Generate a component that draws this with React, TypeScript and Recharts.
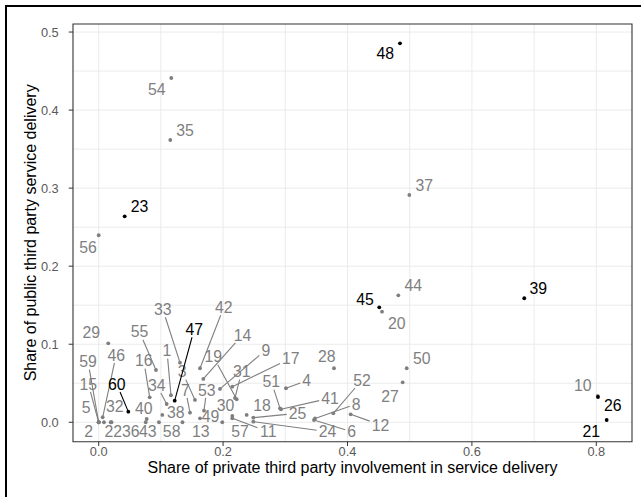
import React from 'react';
import {
  ScatterChart,
  Scatter,
  XAxis,
  YAxis,
  CartesianGrid,
  ReferenceArea,
} from 'recharts';

// unit ids, 1..60
const unitIds = Array.from({ length: 60 }, (_, i) => i + 1);

// x: share of private third party involvement
const privateShare = [
  0.1162, 0.0, 0.1548, 0.3011, 0.0, 0.3461, 0.1468, 0.3478, 0.195, 0.8023,
  0.2148, 0.4051, 0.1347, 0.1682, 0.0, 0.082, 0.2148, 0.2379, 0.2219, 0.4555,
  0.8167, 0.0193, 0.0418, 0.2486, 0.2486, 0.8027, 0.4887, 0.3783, 0.0154, 0.2148,
  0.2191, 0.0085, 0.1307, 0.1093, 0.1151, 0.0206, 0.4994, 0.1023, 0.6842, 0.0772,
  0.2931, 0.1629, 0.0756, 0.4817, 0.4511, 0.0064, 0.1222, 0.4844, 0.1629, 0.4952,
  0.2915, 0.3772, 0.1693, 0.1167, 0.0921, 0.0, 0.1987, 0.0969, 0.0, 0.0476,
];

// y: share of public third party service delivery
const publicShare = [
  0.0346, 0.0, 0.0286, 0.0436, 0.0, 0.0029, 0.0123, 0.0049, 0.0427, 0.0337,
  0.0051, 0.0102, 0.0, 0.0555, 0.0, 0.032, 0.0456, 0.0094, 0.0295, 0.1417,
  0.0029, 0.0, 0.2639, 0.0008, 0.0059, 0.0324, 0.0512, 0.0692, 0.1012, 0.0081,
  0.0311, 0.0, 0.0764, 0.0234, 0.3617, 0.0, 0.2912, 0.0094, 0.1589, 0.0042,
  0.0167, 0.0692, 0.0, 0.1627, 0.1473, 0.0064, 0.0277, 0.4855, 0.0051, 0.0692,
  0.0179, 0.0115, 0.0149, 0.4411, 0.067, 0.2396, 0.0, 0.0, 0.0, 0.0136,
];

const highlightedIds = [21, 23, 26, 39, 45, 47, 48, 60];

const xTicks = [0, 0.2, 0.4, 0.6, 0.8];
const yTicks = [0, 0.1, 0.2, 0.3, 0.4, 0.5];

// label placement (px offset from the point), as the repel layout left them
const labelNudge: Record<number, [number, number]> = {
  1: [-4, -44.6], 2: [-10, 9.4], 3: [-12.8, -28.3], 4: [20.7, -7.6], 5: [-12.5, -15],
  6: [37.7, 11.7], 7: [-4.5, -22.7], 8: [41.2, -14.5], 9: [45.8, -39], 10: [-14.9, -11],
  11: [36, 13.4], 12: [29.8, 10.7], 13: [18.2, 9], 14: [39.2, -44], 15: [-10.4, -38.3],
  16: [-5.9, -36.6], 17: [58.5, -28.4], 18: [15.3, -10], 19: [-23.4, -42.6], 20: [14.7, 11.3],
  21: [-15.4, 11.7], 22: [2.5, 9.4], 23: [14.8, -9.6], 24: [74.2, 10], 25: [44.2, -4.4],
  26: [14.8, 8], 27: [-12.7, 13.7], 28: [-7.3, -11.6], 29: [-17, -11], 30: [-6.8, -11],
  31: [6.7, -26.3], 32: [10.7, -16.3], 33: [-17.2, -53.4], 34: [-10, -19], 35: [14.7, -10],
  36: [19.2, 9.4], 37: [14.9, -10], 38: [13.5, -2.3], 39: [14, -10.3], 40: [-3, -10.7],
  41: [49, -11], 42: [23.8, -61], 43: [2, 9], 44: [15, -10.3], 45: [-14.3, -8],
  46: [13.5, -62.3], 47: [19.5, -71.4], 48: [-14.8, 10], 49: [10.5, -2.3], 50: [15, -10.3],
  51: [-8.7, -26.6], 52: [28.7, -33.3], 53: [2.7, -20.7], 54: [-14.6, 11.3], 55: [-16.5, -38.3],
  56: [-10.7, 12], 57: [17.7, 9], 58: [12.7, 9], 59: [-10.7, -60.6], 60: [-11.6, -27.7],
};

const X_DOMAIN: [number, number] = [-0.0413, 0.8574];
const Y_DOMAIN: [number, number] = [-0.0249, 0.5103];

const FONT = '"Liberation Sans", Arial, Helvetica, sans-serif';
const GRAY = '#7f7f7f';
const LABEL_SIZE = 15.8;
const TITLE_SIZE = 16;
const TICK_SIZE = 12.8;

const points = unitIds.map((id, i) => ({
  id,
  x: privateShare[i],
  y: publicShare[i],
  hl: highlightedIds.includes(id),
}));

const Dot = (props: any) => {
  const { cx, cy, payload } = props;
  if (cx == null || cy == null) return null;
  return <circle cx={cx} cy={cy} r={1.9} fill={payload.hl ? '#000' : GRAY} />;
};

// text label + leader segment, drawn the way ggrepel does
const RepelLabel = (props: any) => {
  const { cx, cy, payload } = props;
  if (cx == null || cy == null) return null;
  const [dx, dy] = labelNudge[payload.id] || [0, 0];
  const color = payload.hl ? '#000' : GRAY;
  const lx = cx + dx;
  const ly = cy + dy;
  const hw = (String(payload.id).length * 0.556 * LABEL_SIZE) / 2 + 2;
  const hh = 8;
  const tx = dx !== 0 ? hw / Math.abs(dx) : Infinity;
  const ty = dy !== 0 ? hh / Math.abs(dy) : Infinity;
  const t = Math.min(tx, ty, 1);
  const segLen = Math.hypot(dx, dy) * (1 - t);
  return (
    <g>
      {segLen > 10 && (
        <line
          x1={cx}
          y1={cy}
          x2={lx - dx * t}
          y2={ly - dy * t}
          stroke={color}
          strokeWidth={1.1}
        />
      )}
      <text
        x={lx}
        y={ly}
        dy="0.36em"
        textAnchor="middle"
        fontSize={LABEL_SIZE}
        fontFamily={FONT}
        fill={color}
      >
        {payload.id}
      </text>
    </g>
  );
};

const XTitle = (props: any) => {
  const vb = props.viewBox || {};
  return (
    <text
      x={vb.x + vb.width / 2}
      y={473}
      textAnchor="middle"
      fontSize={TITLE_SIZE}
      fontFamily={FONT}
      fill="#000"
    >
      Share of private third party involvement in service delivery
    </text>
  );
};

const YTitle = (props: any) => {
  const vb = props.viewBox || {};
  const cy = vb.y + vb.height / 2;
  return (
    <text
      x={36}
      y={cy}
      transform={`rotate(-90, 36, ${cy})`}
      textAnchor="middle"
      fontSize={TITLE_SIZE}
      fontFamily={FONT}
      fill="#000"
    >
      Share of public third party service delivery
    </text>
  );
};

const App: React.FC = () => {
  return (
    <div style={{ position: 'absolute', left: 0, top: 0, width: 641, height: 497, background: '#fff', overflow: 'hidden' }}>
      <div
        style={{
          position: 'absolute',
          left: 5,
          top: 5,
          width: 636,
          height: 492,
          borderTop: '2px solid #000',
          borderLeft: '2px solid #000',
          boxSizing: 'border-box',
        }}
      />
      <ScatterChart
        width={641}
        height={497}
        margin={{ top: 24, right: 9, bottom: 5.3, left: 0 }}
        style={{ position: 'absolute', left: 0, top: 0 }}
      >
        <CartesianGrid
          stroke="#ebebeb"
          strokeWidth={1}
          verticalValues={[0, 0.1, 0.2, 0.3, 0.4, 0.5, 0.6, 0.7, 0.8]}
          horizontalValues={[0, 0.05, 0.1, 0.15, 0.2, 0.25, 0.3, 0.35, 0.4, 0.45, 0.5]}
        />
        <XAxis
          type="number"
          dataKey="x"
          domain={X_DOMAIN}
          ticks={xTicks}
          allowDataOverflow
          tickFormatter={(v: number) => v.toFixed(1)}
          height={50}
          axisLine={false}
          tickLine={{ stroke: '#333' }}
          tickSize={4.3}
          tickMargin={1}
          tick={{ fill: '#5a5a5a', fontSize: TICK_SIZE, fontFamily: FONT }}
          label={XTitle}
        />
        <YAxis
          type="number"
          dataKey="y"
          domain={Y_DOMAIN}
          ticks={yTicks}
          allowDataOverflow
          tickFormatter={(v: number) => v.toFixed(1)}
          width={73}
          axisLine={false}
          tickLine={{ stroke: '#333' }}
          tickSize={4.3}
          tickMargin={10}
          tick={{ fill: '#5a5a5a', fontSize: TICK_SIZE, fontFamily: FONT }}
          label={YTitle}
        />
        <ReferenceArea
          x1={X_DOMAIN[0]}
          x2={X_DOMAIN[1]}
          y1={Y_DOMAIN[0]}
          y2={Y_DOMAIN[1]}
          fill="none"
          fillOpacity={0}
          stroke="#333"
          strokeWidth={1.1}
        />
        <Scatter data={points} shape={Dot} isAnimationActive={false} />
        <Scatter data={points} shape={RepelLabel} isAnimationActive={false} />
      </ScatterChart>
    </div>
  );
};

export default App;
